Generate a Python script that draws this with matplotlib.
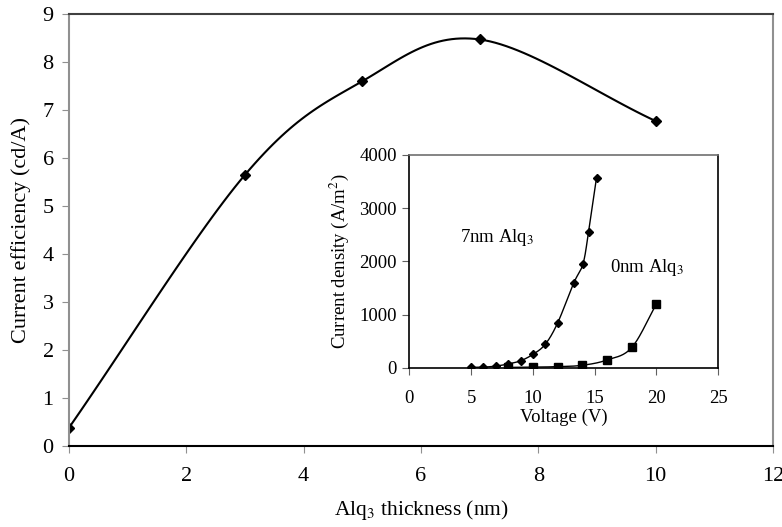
import matplotlib
matplotlib.use("Agg")
import matplotlib.pyplot as plt
import numpy as np

plt.rcParams['font.family'] = ['Liberation Serif', 'DejaVu Serif']
plt.rcParams['mathtext.fontset'] = 'stix'

# main chart: current efficiency vs Alq3 thickness
thickness = [0, 3, 5, 7, 10]
efficiency = [0.38, 5.65, 7.6, 8.47, 6.77]

# inset: J-V curves
v_7nm = [5, 6, 7, 8, 9, 10, 11, 12, 13.3, 14.05, 14.5, 15.15]
j_7nm = [5, 10, 30, 70, 130, 250, 440, 840, 1590, 1950, 2545, 3575]
v_0nm = [8, 10, 12, 14, 16, 18, 20]
j_0nm = [5, 10, 20, 45, 145, 380, 1200]


def smooth(x, y, n=30):
    # Catmull-Rom style smoothing, like a spreadsheet "smoothed line"
    x = np.asarray(x, float)
    y = np.asarray(y, float)
    px = np.concatenate([[2 * x[0] - x[1]], x, [2 * x[-1] - x[-2]]])
    py = np.concatenate([[2 * y[0] - y[1]], y, [2 * y[-1] - y[-2]]])
    xs, ys = [], []
    t = np.linspace(0, 1, n)
    for i in range(1, len(px) - 2):
        p0, p1, p2, p3 = [np.array([px[k], py[k]]) for k in (i - 1, i, i + 1, i + 2)]
        c1 = p1 + (p2 - p0) / 6
        c2 = p2 - (p3 - p1) / 6
        b = ((1 - t) ** 3)[:, None] * p1 + (3 * (1 - t) ** 2 * t)[:, None] * c1 \
            + (3 * (1 - t) * t ** 2)[:, None] * c2 + (t ** 3)[:, None] * p2
        xs.extend(b[:, 0])
        ys.extend(b[:, 1])
    return np.array(xs), np.array(ys)


fig = plt.figure(figsize=(7.82, 5.27), dpi=100)
ax = fig.add_axes([0.0882, 0.1537, 0.9003, 0.8197])

sx, sy = smooth(thickness, efficiency)
ax.plot(sx, sy, color='black', lw=1.5)
ax.plot(thickness, efficiency, linestyle='none', marker='D', ms=5.5, color='black')

ax.set_xlim(0, 12)
ax.set_ylim(0, 9)
ax.set_xticks(range(0, 13, 2))
ax.set_yticks(range(0, 10))
ax.tick_params(labelsize=16, color='#909090', length=5, direction='out', pad=10)
ax.tick_params(axis='y', pad=6)
ax.spines['left'].set_color('#909090')
ax.spines['right'].set_color('#909090')
ax.spines['top'].set_color('#404040')
ax.spines['bottom'].set_color('black')
for s in ax.spines.values():
    s.set_linewidth(1.5)
ax.set_ylabel('Current efficiency (cd/A)', fontsize=16, labelpad=8)
ax.set_xlabel('Alq$_3$ thickness (nm)', fontsize=15.5, labelpad=9)

# inset
ins = fig.add_axes([0.5234, 0.3023, 0.3951, 0.4036])
ins.set_facecolor('white')
s7x, s7y = smooth(v_7nm, j_7nm)
s0x, s0y = smooth(v_0nm, j_0nm)
ins.plot(s7x, s7y, color='black', lw=1)
ins.plot(s0x, s0y, color='black', lw=1)
ins.plot(v_7nm, j_7nm, linestyle='none', marker='D', ms=4.5, color='black')
ins.plot(v_0nm, j_0nm, linestyle='none', marker='s', ms=6, color='black')
ins.set_xlim(0, 25)
ins.set_ylim(0, 4000)
ins.set_xticks(range(0, 26, 5))
ins.set_yticks(range(0, 4001, 1000))
ins.tick_params(labelsize=13.5, length=5, direction='out', color='#606060')
ins.tick_params(axis='x', pad=11)
ins.tick_params(axis='y', pad=4)
ins.spines['top'].set_color('#707070')
for s in ins.spines.values():
    s.set_linewidth(1.2)
ins.set_xlabel('Voltage (V)', fontsize=13.5, labelpad=1)
ins.set_ylabel('Current density (A/m$^2$)', fontsize=13.5, labelpad=6)
ins.text(4.1, 2450, '7nm Alq$_3$', fontsize=13.5, va='center', ha='left')
ins.text(16.2, 1880, '0nm Alq$_3$', fontsize=13.5, va='center', ha='left')

fig.savefig('out.png', dpi=100)
